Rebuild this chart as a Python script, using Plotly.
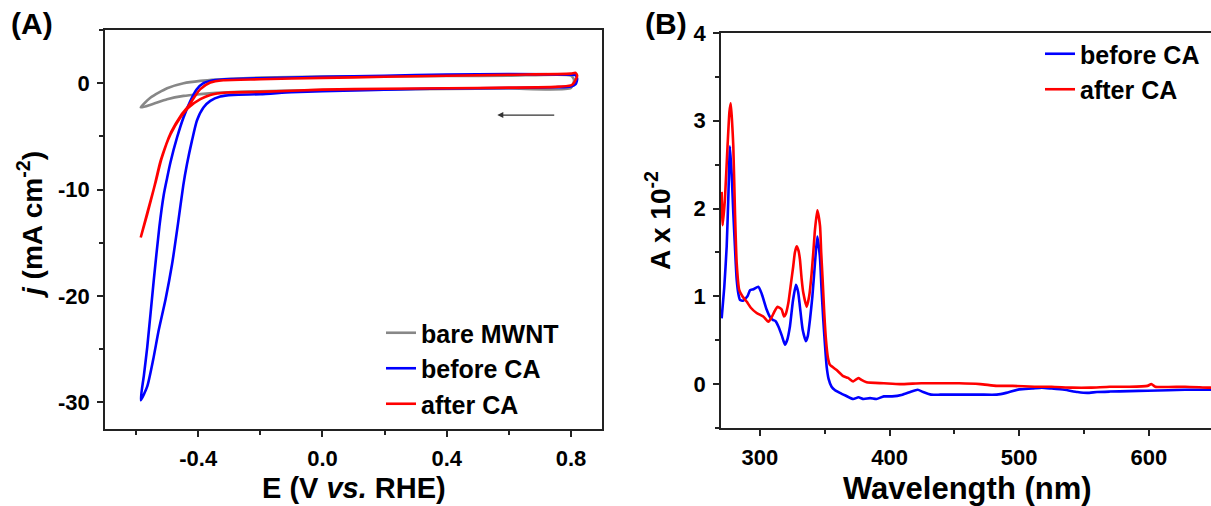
import plotly.graph_objects as go

# ---------------- Panel A: cyclic voltammograms ----------------
bare_E = [0.80, 0.60, 0.40, 0.20, 0.00, -0.20, -0.34, -0.393, -0.447, -0.50, -0.553, -0.585,
          -0.553, -0.50, -0.447, -0.393, -0.34, -0.20, 0.00, 0.20, 0.40, 0.60, 0.80, 0.81, 0.80]
bare_j = [-0.45, -0.50, -0.55, -0.60, -0.65, -0.75, -0.91, -1.03, -1.19, -1.50, -2.03, -2.28,
          -1.35, -0.47, 0.00, 0.22, 0.34, 0.53, 0.62, 0.65, 0.68, 0.70, 0.72, 0.30, -0.45]

before_E = [0.815, 0.80, 0.75, 0.60, 0.40, 0.20, 0.00, -0.10, -0.20, -0.287, -0.329, -0.361,
            -0.383, -0.404, -0.420, -0.436, -0.448, -0.465, -0.484, -0.505, -0.527, -0.545,
            -0.564, -0.585,
            -0.575, -0.564, -0.543, -0.525, -0.511, -0.500, -0.489, -0.468, -0.447, -0.425,
            -0.404, -0.383, -0.351, -0.287, -0.20, 0.00, 0.20, 0.40, 0.60, 0.80, 0.815, 0.82, 0.815]
before_j = [-0.10, -0.30, -0.38, -0.45, -0.50, -0.60, -0.75, -0.85, -1.03, -1.10, -1.25, -1.66,
            -2.28, -3.50, -5.40, -7.60, -9.60, -13.2, -17.0, -20.3, -23.2, -26.0,
            -28.5, -29.8,
            -27.5, -24.8, -18.5, -13.5, -10.5, -8.9, -7.4, -5.1, -3.2, -1.66,
            -0.56, 0.00, 0.28, 0.40, 0.47, 0.60, 0.70, 0.82, 0.85, 0.80, 0.75, 0.40, -0.10]

after_E = [0.81, 0.80, 0.75, 0.60, 0.40, 0.20, 0.00, -0.20, -0.308, -0.361, -0.393, -0.431,
           -0.457, -0.489, -0.521, -0.540, -0.564, -0.585,
           -0.563, -0.538, -0.518, -0.487, -0.455, -0.430, -0.410, -0.393, -0.361, -0.319,
           -0.20, 0.00, 0.20, 0.40, 0.60, 0.80, 0.815, 0.82, 0.81]
after_j = [0.05, -0.20, -0.35, -0.42, -0.47, -0.52, -0.60, -0.82, -0.88, -1.10, -1.50, -2.28,
           -3.20, -4.80, -7.30, -9.60, -12.3, -14.5,
           -12.1, -9.4, -7.1, -4.6, -3.0, -2.1, -1.2, -0.56, 0.06, 0.28,
           0.37, 0.50, 0.60, 0.70, 0.80, 0.90, 0.97, 0.70, 0.05]

# ---------------- Panel B: UV-vis spectra ----------------
wl_before = [270.5, 272.5, 274.4, 275.8, 276.9, 278.2, 279.5, 280.8, 282.1, 283.5, 284.6, 287,
             290.4, 292.4, 295, 298.8, 301.4, 305.2, 308, 310.3, 312, 314.2, 317, 319.3, 321,
             323.2, 325.5, 327.8, 329.5, 330.9, 333, 335.5, 337, 338.6, 340.5, 342.5, 344.3,
             346.3, 347.5, 348.9, 350.2, 351.5, 353, 355.3, 358, 361.7, 366, 372, 376, 380,
             385, 390, 395.6, 402, 410, 416, 421.7, 426, 432, 439.2, 450, 460, 470, 482.8, 490,
             500.1, 510, 517.5, 525, 535, 545, 552.5, 560, 570, 585, 599, 615, 628, 648]
abs_before = [0.75, 1.10, 1.57, 2.20, 2.71, 2.40, 1.95, 1.55, 1.19, 1.02, 0.96, 0.95,
              1.00, 1.07, 1.08, 1.11, 1.03, 0.85, 0.76, 0.73, 0.72, 0.66, 0.55, 0.45, 0.50,
              0.66, 0.95, 1.13, 1.05, 0.88, 0.62, 0.49, 0.55, 0.73, 1.00, 1.38, 1.68,
              1.45, 1.10, 0.73, 0.45, 0.20, 0.06, -0.03, -0.07, -0.10, -0.13, -0.17, -0.15, -0.17,
              -0.16, -0.17, -0.14, -0.14, -0.12, -0.09, -0.065, -0.09, -0.12, -0.12, -0.12, -0.12,
              -0.12, -0.12, -0.10, -0.06, -0.05, -0.04, -0.05, -0.065, -0.09, -0.10, -0.09, -0.085,
              -0.08, -0.075, -0.07, -0.065, -0.065]

wl_after = [270.5, 271.3, 273, 275, 276.5, 277.5, 278.5, 279.5, 280.8, 282.1, 284.1, 286.5,
            289.8, 293, 297.5, 302.6, 306.5, 309, 311, 313.4, 315, 316.8, 318.6, 320, 321.9,
            324, 325.7, 327, 328.4, 329.8, 330.9, 332.2, 333.5, 336.1, 338, 339.9, 341.2, 342.5,
            344.3, 346.4, 347.3, 348.4, 349.7, 351, 352.5, 354, 359.2, 364.3, 368, 372, 376, 378,
            382.3, 395.6, 408, 424.6, 440, 453.7, 470, 482.8, 495, 511.8, 525, 540.8, 555,
            569.9, 585, 599, 602, 605, 628, 645.5, 648]
abs_after = [2.19, 1.81, 2.10, 2.70, 3.10, 3.20, 3.00, 2.71, 1.95, 1.38, 1.07, 1.00,
             0.94, 0.87, 0.81, 0.77, 0.71, 0.76, 0.82, 0.88, 0.87, 0.85, 0.77, 0.80, 0.92,
             1.15, 1.34, 1.50, 1.57, 1.52, 1.42, 1.20, 1.04, 0.88, 1.00, 1.26, 1.50, 1.76,
             1.98, 1.80, 1.50, 1.19, 0.80, 0.50, 0.30, 0.22, 0.16, 0.09, 0.07, 0.03, 0.07, 0.05,
             0.02, 0.01, 0.00, 0.01, 0.01, 0.01, 0.00, -0.02, -0.02, -0.03, -0.03, -0.04, -0.04,
             -0.03, -0.03, -0.02, 0.00, -0.03, -0.03, -0.04, -0.04]

# tick labels (hyphen minus as in the original)
xA_ticks = [-0.4, 0.0, 0.4, 0.8]
xA_text = ["-0.4", "0.0", "0.4", "0.8"]
yA_ticks = [0, -10, -20, -30]
yA_text = ["0", "-10", "-20", "-30"]
xB_ticks = [300, 400, 500, 600]
xB_text = ["300", "400", "500", "600"]
yB_ticks = [0, 1, 2, 3, 4]
yB_text = ["0", "1", "2", "3", "4"]

GRAY, BLUE, RED = "#878787", "#0000FF", "#FF0000"
FONT = "Liberation Sans, Arial, sans-serif"
W, H = 1211, 506

fig = go.Figure()
LW = 2.6
fig.add_trace(go.Scatter(x=bare_E, y=bare_j, mode="lines", name="bare MWNT",
                         line=dict(color=GRAY, width=LW, shape="spline", smoothing=0.6),
                         legend="legend", legendgroup="a1"))
fig.add_trace(go.Scatter(x=before_E, y=before_j, mode="lines", name="before CA",
                         line=dict(color=BLUE, width=LW, shape="spline", smoothing=0.6),
                         legend="legend", legendgroup="a2"))
fig.add_trace(go.Scatter(x=after_E, y=after_j, mode="lines", name="after CA",
                         line=dict(color=RED, width=LW, shape="spline", smoothing=0.6),
                         legend="legend", legendgroup="a3"))
fig.add_trace(go.Scatter(x=wl_before, y=abs_before, mode="lines", name="before CA",
                         line=dict(color=BLUE, width=LW, shape="spline", smoothing=0.5),
                         xaxis="x2", yaxis="y2", legend="legend2", legendgroup="b1"))
fig.add_trace(go.Scatter(x=wl_after, y=abs_after, mode="lines", name="after CA",
                         line=dict(color=RED, width=LW, shape="spline", smoothing=0.5),
                         xaxis="x2", yaxis="y2", legend="legend2", legendgroup="b2"))

tickfont = dict(family=FONT, size=22, color="black", weight="bold")
common = dict(showline=True, linecolor="#222", linewidth=1.6, ticks="outside", ticklen=6,
              tickwidth=1.6, tickcolor="#222", showgrid=False, zeroline=False,
              tickfont=tickfont, automargin=False, ticklabelstandoff=3)
minor = lambda d: dict(dtick=d, ticks="outside", ticklen=4, tickcolor="#222", tickwidth=1.6)

dA_x = [105 / W, 602 / W]
dA_y = [1 - 429 / H, 1 - 30 / H]
dB_x = [721 / W, 1.0]
dB_y = [1 - 428 / H, 1 - 33 / H]

legfont = dict(family=FONT, size=25, color="black", weight="bold")
fig.update_layout(
    width=W, height=H, margin=dict(l=0, r=0, t=0, b=0),
    paper_bgcolor="white", plot_bgcolor="white",
    font=dict(family=FONT, color="black"),
    xaxis=dict(domain=dA_x, range=[-0.7, 0.9], tickvals=xA_ticks, ticktext=xA_text,
               mirror=True, minor=minor(0.2), anchor="y", **common),
    yaxis=dict(domain=dA_y, range=[-32.5, 5], tickvals=yA_ticks, ticktext=yA_text,
               mirror=True, minor=minor(5), anchor="x", **common),
    xaxis2=dict(domain=dB_x, range=[270, 648], tickvals=xB_ticks, ticktext=xB_text,
                mirror=True, minor=minor(50), anchor="y2", **common),
    yaxis2=dict(domain=dB_y, range=[-0.5, 4], tickvals=yB_ticks, ticktext=yB_text,
                mirror=False, minor=minor(0.5), anchor="x2", **common),
    legend=dict(x=381 / W, y=1 - 310 / H, xanchor="left", yanchor="top",
                bgcolor="rgba(0,0,0,0)", tracegroupgap=0, font=legfont),
    legend2=dict(x=1040 / W, y=1 - 31 / H, xanchor="left", yanchor="top",
                 bgcolor="rgba(0,0,0,0)", tracegroupgap=0, font=legfont),
    showlegend=True,
)

def label(text, x, y, size, angle=0):
    fig.add_annotation(text=text, xref="paper", yref="paper", x=x / W, y=1 - y / H,
                       xanchor="center", yanchor="middle", showarrow=False, textangle=angle,
                       font=dict(family=FONT, size=size, color="black", weight="bold"))

label("E (V <i>vs.</i> RHE)", 353.5, 488, 29)
label("Wavelength (nm)", 967, 488, 31)
label("<i>j</i> (mA cm<sup>-2</sup>)", 30, 225, 28, -90)
label("A x 10<sup>-2</sup>", 658, 220, 28, -90)
label("(A)", 32, 24, 30)
label("(B)", 666, 24, 30)

# scan direction arrow
fig.add_annotation(x=0.563, y=-3.0, ax=0.751, ay=-3.0, xref="x", yref="y", axref="x", ayref="y",
                   text="", showarrow=True, arrowhead=2, arrowsize=1, arrowwidth=1.2,
                   arrowcolor="#333")

fig.write_html("out.html", config={"displayModeBar": False},
               post_script="document.body.style.margin='0';document.body.style.overflow='hidden';")
